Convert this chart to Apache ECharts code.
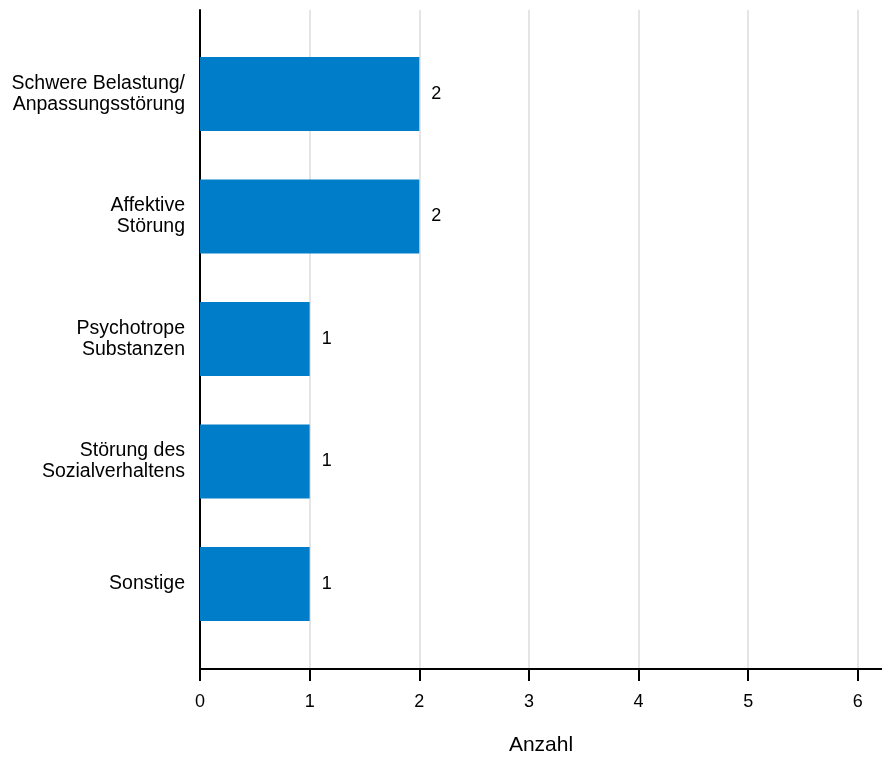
<!DOCTYPE html>
<html><head><meta charset="utf-8">
<script src="https://cdn.jsdelivr.net/npm/echarts@6/dist/echarts.min.js"></script>
<style>html,body{margin:0;padding:0;background:#fff}#c{width:882px;height:758px}</style>
</head><body><div id="c"></div>
<script>
const categories = ["Schwere Belastung/\nAnpassungsstörung", "Affektive\nStörung", "Psychotrope\nSubstanzen", "Störung des\nSozialverhaltens", "Sonstige"];
const values = [2, 2, 1, 1, 1];
const xTicks = [0, 1, 2, 3, 4, 5, 6];
const xName = "Anzahl";

const font = "Liberation Sans, Arial, sans-serif";
const chart = echarts.init(document.getElementById('c'), null, {renderer: 'canvas'});
chart.setOption({
  animation: false,
  backgroundColor: '#fff',
  grid: [
    {left: 200, right: 0, top: 10, bottom: 89, outerBoundsMode: 'none', containLabel: false},
    {left: 200, right: 0, top: 32.75, bottom: 112.75, outerBoundsMode: 'none', containLabel: false}
  ],
  xAxis: [
    {gridIndex: 0, type: 'value', min: 0, max: 6.22, interval: 1,
     axisLine: {show: true, lineStyle: {color: '#000', width: 2}},
     axisTick: {show: true, length: 12, lineStyle: {color: '#000', width: 2},
       customValues: xTicks},
     axisLabel: {show: true, color: '#000', fontSize: 18, fontFamily: font, margin: 24,
       customValues: xTicks, formatter: v => String(v)},
     splitLine: {show: true, lineStyle: {color: '#dcdcdc', width: 1.5}},
     name: xName, nameLocation: 'middle', nameGap: 66,
     nameTextStyle: {color: '#000', fontSize: 21, fontFamily: font}},
    {gridIndex: 1, type: 'value', min: 0, max: 6.22, show: false}
  ],
  yAxis: [
    {gridIndex: 0, type: 'value', min: 0, max: 1,
     axisLine: {show: true, lineStyle: {color: '#000', width: 2}},
     axisTick: {show: false}, axisLabel: {show: false}, splitLine: {show: false}},
    {gridIndex: 1, type: 'category', data: categories, inverse: true,
     axisLine: {show: false}, axisTick: {show: false}, splitLine: {show: false},
     axisLabel: {color: '#000', fontSize: 19.5, fontFamily: font, margin: 15, lineHeight: 21, align: 'right'}}
  ],
  series: [{
    type: 'bar', xAxisIndex: 1, yAxisIndex: 1, data: values,
    barWidth: 74,
    itemStyle: {color: '#007DC8'},
    label: {show: true, position: 'right', distance: 12, color: '#000', fontSize: 18, fontFamily: font}
  }]
});
</script></body></html>
